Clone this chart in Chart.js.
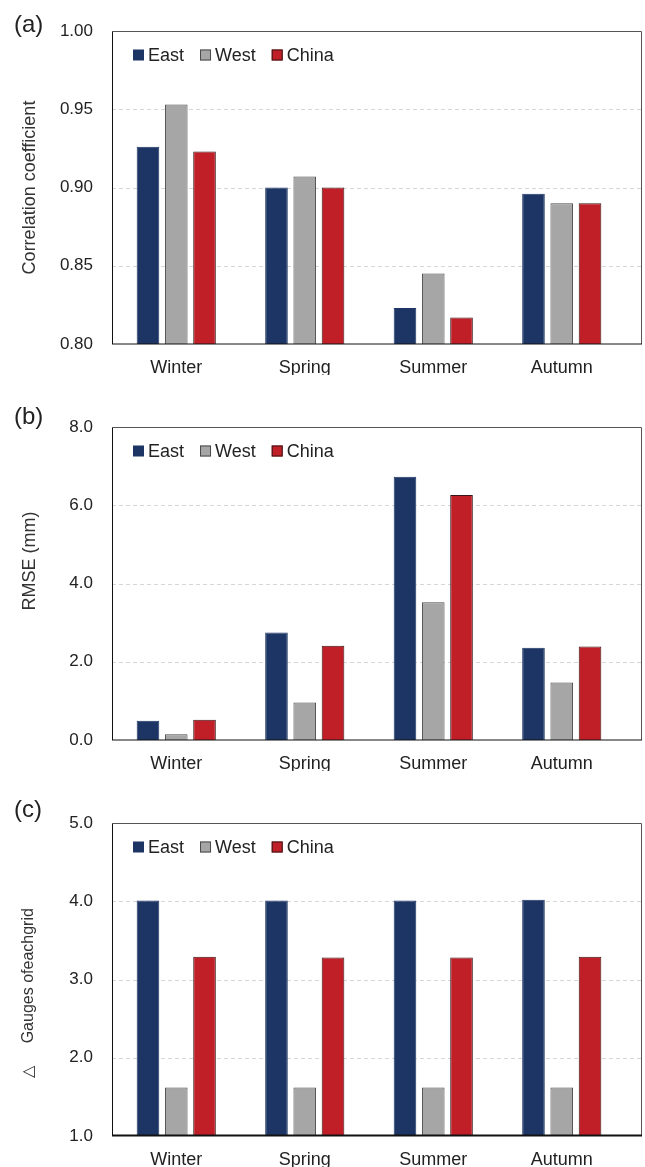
<!DOCTYPE html>
<html>
<head>
<meta charset="utf-8">
<script src="https://cdn.jsdelivr.net/npm/chart.js@4.4.1/dist/chart.umd.min.js"></script>
<style>
  html, body { margin: 0; padding: 0; background: #fff; overflow: hidden; }
  #page { position: relative; width: 645px; height: 1167px; }
  canvas { position: absolute; left: 0; }
  .tag { position: absolute; left: 14px; font: 24px "Liberation Sans", Arial, sans-serif; color: #222; line-height: 24px; }
</style>
</head>
<body>
<div id="page">
  <canvas id="chartA" width="645" height="375" style="top:0px"></canvas>
  <canvas id="chartB" width="645" height="375" style="top:396px"></canvas>
  <canvas id="chartC" width="645" height="375" style="top:792px"></canvas>
  <div class="tag" style="top:12px">(a)</div>
  <div class="tag" style="top:404px">(b)</div>
  <div class="tag" style="top:797px">(c)</div>
</div>
<script>
const seasons = ['Winter', 'Spring', 'Summer', 'Autumn'];
const seriesNames = ['East', 'West', 'China'];

// (a) correlation coefficient
const corrEast = [0.926, 0.900, 0.823, 0.896];
const corrWest = [0.953, 0.907, 0.845, 0.890];
const corrChina = [0.923, 0.900, 0.817, 0.890];

// (b) RMSE in mm
const rmseEast = [0.49, 2.75, 6.73, 2.36];
const rmseWest = [0.15, 0.96, 3.52, 1.47];
const rmseChina = [0.52, 2.41, 6.26, 2.39];

// (c) gauges of each grid
const gaugeEast = [4.01, 4.01, 4.01, 4.02];
const gaugeWest = [1.62, 1.62, 1.62, 1.62];
const gaugeChina = [3.29, 3.28, 3.28, 3.29];

const FONT = '"Liberation Sans", Arial, sans-serif';
Chart.defaults.font.family = FONT;
Chart.defaults.color = '#222';

const fills = ['#1c3564', '#a6a6a6', '#c01f27'];
const edges = ['#1c3564', '#4a4a4a', '#3a1515'];

// dashed grid + frame; the frame runs a bit past the last category like the original
const framePlugin = {
    id: 'frame',
    beforeDatasetsDraw(chart, args, opts) {
        const ctx = chart.ctx;
        const a = chart.chartArea;
        const y = chart.scales.y;
        const right = a.right + opts.extra;
        ctx.save();
        ctx.strokeStyle = '#d6d6d6';
        ctx.lineWidth = 1;
        ctx.setLineDash([4, 3]);
        y.ticks.forEach(t => {
            if (Math.abs(t.value - y.min) < 1e-9 || Math.abs(t.value - y.max) < 1e-9) return;
            const py = Math.round(y.getPixelForValue(t.value)) + 0.5;
            ctx.beginPath();
            ctx.moveTo(a.left, py);
            ctx.lineTo(right, py);
            ctx.stroke();
        });
        ctx.restore();
    },
    afterDatasetsDraw(chart, args, opts) {
        const ctx = chart.ctx;
        const a = chart.chartArea;
        const l = Math.round(a.left) + 0.5;
        const t = Math.round(a.top) + 0.5;
        const r = Math.round(a.right + opts.extra) + 0.5;
        const b = Math.round(a.bottom);
        ctx.save();
        ctx.lineWidth = 1;
        ctx.strokeStyle = '#555';
        ctx.beginPath();
        ctx.moveTo(r, b);
        ctx.lineTo(r, t);
        ctx.lineTo(l, t);
        ctx.stroke();
        ctx.strokeStyle = '#111';
        ctx.beginPath();
        ctx.moveTo(l, t);
        ctx.lineTo(l, b);
        ctx.stroke();
        ctx.lineWidth = opts.axisWidth;
        ctx.beginPath();
        ctx.moveTo(l - 0.5, b - opts.axisWidth / 2 + 0.5);
        ctx.lineTo(r + 0.5, b - opts.axisWidth / 2 + 0.5);
        ctx.stroke();

        // legend row inside the plot, top-left
        let x = a.left + 21;
        const cy = a.top + 24;
        ctx.font = '18px ' + FONT;
        ctx.textBaseline = 'middle';
        ctx.textAlign = 'left';
        chart.data.datasets.forEach(ds => {
            ctx.fillStyle = ds.backgroundColor;
            ctx.fillRect(x, cy - 5.5, 11, 11);
            if (ds.borderColor !== ds.backgroundColor) {
                ctx.strokeStyle = ds.borderColor;
                ctx.lineWidth = 1;
                ctx.strokeRect(x + 0.5, cy - 5, 10, 10);
            }
            ctx.fillStyle = '#222';
            ctx.fillText(ds.label, x + 15, cy + 1);
            x += 15 + ctx.measureText(ds.label).width + 16;
        });
        ctx.restore();
    }
};

function makeChart(id, seriesValues, yTitle, titleSize, yMin, yMax, yStep, digits, axisWidth) {
    return new Chart(document.getElementById(id), {
        type: 'bar',
        data: {
            labels: seasons,
            datasets: seriesNames.map((name, i) => ({
                label: name,
                data: seriesValues[i],
                backgroundColor: fills[i],
                borderColor: edges[i],
                borderWidth: 1,
                categoryPercentage: 0.66,
                barPercentage: 0.8
            }))
        },
        options: {
            responsive: false,
            animation: false,
            layout: { padding: { top: 31, right: 19, bottom: 0, left: 0 } },
            plugins: {
                legend: { display: false },
                tooltip: { enabled: false },
                frame: { extra: 15, axisWidth: axisWidth }
            },
            scales: {
                x: {
                    grid: { display: false, drawTicks: false },
                    border: { display: false },
                    ticks: { padding: 13, font: { size: 18 }, color: '#222' },
                    afterFit: s => { s.height = 31; }
                },
                y: {
                    min: yMin,
                    max: yMax,
                    grid: { display: false, drawTicks: false },
                    border: { display: false },
                    ticks: { stepSize: yStep, padding: 19, font: { size: 17 }, color: '#222', callback: v => v.toFixed(digits) },
                    title: { display: true, text: yTitle, font: { size: titleSize }, color: '#333', padding: { top: 19, bottom: 0 } },
                    afterFit: s => { s.width = 112; }
                }
            }
        },
        plugins: [framePlugin]
    });
}

makeChart('chartA', [corrEast, corrWest, corrChina], 'Correlation coefficient', 18, 0.8, 1.0, 0.05, 2, 1);
makeChart('chartB', [rmseEast, rmseWest, rmseChina], '         RMSE (mm)', 18, 0, 8, 2, 1, 1);
makeChart('chartC', [gaugeEast, gaugeWest, gaugeChina], '\u25B3     Gauges ofeachgrid      ', 16, 1, 5, 1, 1, 2);
</script>
</body>
</html>
